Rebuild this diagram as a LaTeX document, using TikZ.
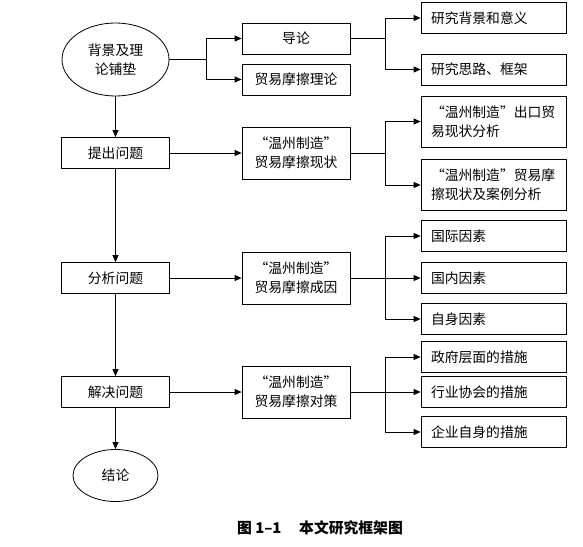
\documentclass[tikz,border=0pt]{standalone}
\usepackage{fontspec}
\setmainfont{Noto Sans CJK SC}
\newcommand\myoq{\makebox[1em][r]{“}}
\newcommand\mycq{\makebox[1em][l]{”}}
\usetikzlibrary{arrows.meta,shapes.geometric}
\begin{document}
\begin{tikzpicture}[x=1pt,y=-1pt,
  font=\fontsize{13.8}{19}\selectfont,
  box/.style={draw, line width=0.8pt, rectangle, inner sep=0pt, align=center},
  lbox/.style={box, minimum width=108pt, minimum height=31pt},
  mbox/.style={box, minimum width=108pt, minimum height=52pt},
  rbox/.style={draw, line width=0.8pt, inner xsep=10pt, inner ysep=0pt, text width=125pt, align=left, minimum height=31pt},
  rboxt/.style={rbox, minimum height=51pt},
  oval/.style={draw, ellipse, line width=0.8pt, inner sep=0pt, align=center},
  conn/.style={line width=0.8pt},
  arr/.style={conn, -{Triangle[length=7pt,width=6pt]}}]
\fill[white] (0,0) rectangle (583,546);
\useasboundingbox (0,0) rectangle (583,546);
% left column
\node[oval, minimum width=107pt, minimum height=73pt] (e1) at (115.5,59.5) {背景及理\\论铺垫};
\node[lbox] (tichu) at (115.5,153) {提出问题};
\node[lbox] (fenxi) at (115.5,278) {分析问题};
\node[lbox] (jiejue) at (115.5,392) {解决问题};
\node[oval, minimum width=85pt, minimum height=52pt] (e2) at (115.5,475.5) {结论};
% middle column
\node[lbox] (daolun) at (296,38.5) {导论};
\node[lbox] (lilun) at (296,79.5) {贸易摩擦理论};
\node[mbox] (xz) at (296,153) {\myoq 温州制造\mycq\\贸易摩擦现状};
\node[mbox] (cy) at (296,278) {\myoq 温州制造\mycq\\贸易摩擦成因};
\node[mbox] (dc) at (296,392) {\myoq 温州制造\mycq\\贸易摩擦对策};
% right column
\node[rbox] (r1) at (493.5,18) {研究背景和意义};
\node[rbox] (r2) at (493.5,69.5) {研究思路、框架};
\node[rboxt] (r3) at (493.5,121.5) {\myoq 温州制造\mycq 出口贸\\易现状分析};
\node[rboxt] (r4) at (493.5,185) {\myoq 温州制造\mycq 贸易摩\\擦现状及案例分析};
\node[rbox] (r5) at (493.5,236) {国际因素};
\node[rbox] (r6) at (493.5,278) {国内因素};
\node[rbox] (r7) at (493.5,319) {自身因素};
\node[rbox] (r8) at (493.5,357) {政府层面的措施};
\node[rbox] (r9) at (493.5,392) {行业协会的措施};
\node[rbox] (r10) at (493.5,432) {企业自身的措施};
% caption
\node[font=\fontsize{14.8}{17}\selectfont\bfseries] (cap) at (320,528) {图 1–1\hspace{1.2em}本文研究框架图};
% junctions
\coordinate (j1) at (206,59.5);
\coordinate (j2) at (385,38.5);
\coordinate (j3) at (385,153);
\coordinate (j4) at (385,278);
\coordinate (j5) at (385,392);
% vertical flow
\draw[arr] (e1.south) -- (tichu.north);
\draw[arr] (tichu.south) -- (fenxi.north);
\draw[arr] (fenxi.south) -- (jiejue.north);
\draw[arr] (jiejue.south) -- (e2.north);
% to middle
\draw[conn] (e1.east) -- (j1);
\draw[arr] (j1) |- (daolun.west);
\draw[arr] (j1) |- (lilun.west);
\draw[arr] (tichu.east) -- (xz.west);
\draw[arr] (fenxi.east) -- (cy.west);
\draw[arr] (jiejue.east) -- (dc.west);
% to right
\draw[conn] (daolun.east) -- (j2);
\draw[arr] (j2) |- (r1.west);
\draw[arr] (j2) |- (r2.west);
\draw[conn] (xz.east) -- (j3);
\draw[arr] (j3) |- (r3.west);
\draw[arr] (j3) |- (r4.west);
\draw[conn] (cy.east) -- (j4);
\draw[arr] (j4) |- (r5.west);
\draw[arr] (j4) -- (r6.west);
\draw[arr] (j4) |- (r7.west);
\draw[conn] (dc.east) -- (j5);
\draw[arr] (j5) |- (r8.west);
\draw[arr] (j5) -- (r9.west);
\draw[arr] (j5) |- (r10.west);
\end{tikzpicture}
\end{document}
